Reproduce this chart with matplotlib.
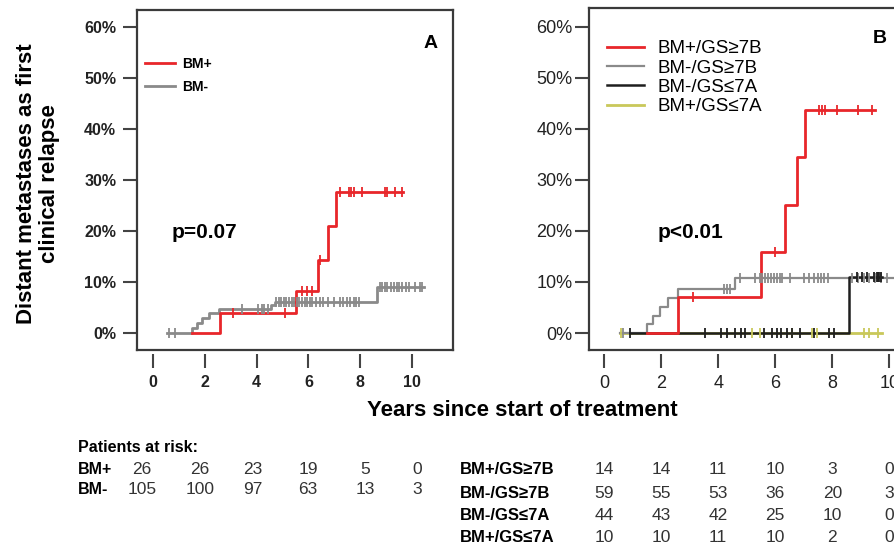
import numpy as np
import matplotlib
matplotlib.use('Agg')
import matplotlib.pyplot as plt
import matplotlib.transforms as mtransforms

plt.rcParams['font.family'] = ['Liberation Sans', 'DejaVu Sans']

# ---- panel A : BM+ / BM- (cumulative incidence, %) ----
a_red_start, a_red_end = 1.5, 9.65
a_red_times = [2.6, 5.5, 6.35, 6.75, 7.05]
a_red_vals = [3.9, 8.3, 14.4, 20.9, 27.6]
a_red_cens = [3.1, 5.1, 5.75, 5.95, 6.15, 6.45, 7.2, 7.55, 7.65, 7.75,
              8.05, 8.95, 9.05, 9.35, 9.6]

a_gray_start, a_gray_end = 0.55, 10.45
a_gray_times = [1.5, 1.7, 1.9, 2.15, 2.55, 4.55, 4.7, 8.65]
a_gray_vals = [1.0, 1.9, 2.9, 3.9, 4.8, 5.4, 6.0, 9.0]
a_gray_cens = [0.6, 0.85, 3.45, 4.05, 4.2, 4.3, 4.45,
               4.75, 4.85, 4.95, 5.05, 5.15, 5.25, 5.35, 5.45, 5.55, 5.65,
               5.75, 5.85, 5.95, 6.05, 6.15, 6.3, 6.45, 6.55, 6.75, 7.0,
               7.2, 7.35, 7.5, 7.6, 7.75, 7.85, 7.95,
               8.75, 8.85, 8.95, 9.05, 9.2, 9.3, 9.4, 9.5, 9.6, 9.75, 9.9,
               10.1, 10.3, 10.4]

# ---- panel B : four groups ----
b_red_start, b_red_end = 1.5, 9.5
b_red_times = [2.6, 5.5, 6.35, 6.75, 7.05]
b_red_vals = [7.1, 15.8, 25.0, 34.4, 43.8]
b_red_cens = [3.1, 6.0, 7.55, 7.65, 7.75, 8.15, 8.9, 9.4]

b_gray_start, b_gray_end = 0.56, 10.5
b_gray_times = [1.5, 1.7, 1.95, 2.25, 2.6, 4.6]
b_gray_vals = [1.7, 3.4, 5.1, 6.8, 8.6, 10.7]
b_gray_cens = [0.65, 4.2, 4.3, 4.4, 4.75, 5.3, 5.45, 5.55, 5.65, 5.75,
               5.85, 5.95, 6.05, 6.15, 6.25, 6.5, 7.0, 7.2, 7.35, 7.5, 7.6,
               7.7, 7.85, 8.7, 8.9, 9.1, 9.3, 9.5, 9.7, 9.9, 10.2]

b_black_start, b_black_end = 0.9, 9.75
b_black_times = [8.6]
b_black_vals = [11.0]
b_black_cens = [0.9, 3.55, 4.1, 4.3, 4.6, 4.8, 4.95, 5.6, 5.9, 6.05, 6.2,
                6.4, 6.6, 6.85, 7.35, 7.9, 8.05,
                8.85, 9.05, 9.2, 9.45, 9.55, 9.6, 9.65, 9.7]

b_olive_start, b_olive_end = 0.56, 9.75
b_olive_times = []
b_olive_vals = []
b_olive_cens = [0.6, 5.2, 5.45, 6.6, 7.3, 7.45, 9.1, 9.3, 9.6]

# ---- patients at risk ----
risk_years = [0, 2, 4, 6, 8, 10]
a_risk_labels = ['BM+', 'BM-']
a_risk = [[26, 26, 23, 19, 5, 0],
          [105, 100, 97, 63, 13, 3]]
b_risk_labels = ['BM+/GS\u22657B', 'BM-/GS\u22657B', 'BM-/GS\u22647A', 'BM+/GS\u22647A']
b_risk = [[14, 14, 11, 10, 3, 0],
          [59, 55, 53, 36, 20, 3],
          [44, 43, 42, 25, 10, 0],
          [10, 10, 11, 10, 2, 0]]

RED = '#e8262a'
GRAY = '#8a8a8a'
BLACK = '#1e1e1e'
OLIVE = '#c9c85a'
AXC = '#3a3a3a'


def km_curve(ax, start, end, times, vals, cens, color, lw=2.0, label=None):
    x = [start] + list(times) + [end]
    y = [0] + list(vals) + [vals[-1] if vals else 0]
    ax.step(x, y, where='post', color=color, lw=lw, label=label, zorder=3)
    idx = np.searchsorted(np.array(times, dtype=float), np.array(cens), side='right')
    lev = np.concatenate([[0], vals])[idx]
    ax.plot(cens, lev, ls='none', marker='|', ms=7, mew=1.3, color=color, zorder=4)


def style_axes(ax, xlim, ylim, bold):
    ax.set_xlim(*xlim)
    ax.set_ylim(*ylim)
    ax.set_xticks([0, 2, 4, 6, 8, 10])
    ax.set_yticks([0, 10, 20, 30, 40, 50, 60])
    ax.set_yticklabels([f'{v}%' for v in range(0, 70, 10)])
    for s in ['top', 'left', 'right']:
        ax.spines[s].set_color(AXC)
        ax.spines[s].set_linewidth(1.6)
    ax.spines['bottom'].set_position(('outward', 3))
    ax.spines['bottom'].set_color('none')
    ax.plot([0, 1], [0, 0], transform=ax.transAxes, color=AXC, lw=1.6, clip_on=False, zorder=5)
    ax.tick_params(axis='both', direction='out', color='#444444', width=1.5, labelcolor='#222222')
    ax.tick_params(axis='y', length=10, pad=5 if bold else 2)
    ax.tick_params(axis='x', length=10, pad=5)
    w = 'bold' if bold else 'normal'
    sz = 11.5 if bold else 13
    for t in ax.get_xticklabels() + ax.get_yticklabels():
        t.set_fontweight(w)
        t.set_fontsize(sz)


fig = plt.figure(figsize=(8.95, 5.49), dpi=100)
axA = fig.add_axes([137 / 895, 1 - 350 / 549, 316 / 895, 340 / 549])
axB = fig.add_axes([589 / 895, 1 - 350 / 549, 346 / 895, 342 / 549])

# panel A
km_curve(axA, a_gray_start, a_gray_end, a_gray_times, a_gray_vals, a_gray_cens, GRAY, label='BM-')
km_curve(axA, a_red_start, a_red_end, a_red_times, a_red_vals, a_red_cens, RED, label='BM+')
style_axes(axA, (-0.62, 11.58), (-3.33, 63.33), True)
h, l = axA.get_legend_handles_labels()
axA.legend(h[::-1], l[::-1], loc='upper left', bbox_to_anchor=(0.025, 0.862), frameon=False,
           borderpad=0, borderaxespad=0, handlelength=2.2, handletextpad=0.45,
           labelspacing=0.65, prop={'weight': 'bold', 'size': 10})
axA.text(0.93, 0.9, 'A', transform=axA.transAxes, fontsize=14, fontweight='bold',
         ha='center', va='center')
axA.text(0.11, 0.345, 'p=0.07', transform=axA.transAxes, fontsize=15, fontweight='bold',
         ha='left', va='center')

# panel B
km_curve(axB, b_olive_start, b_olive_end, b_olive_times, b_olive_vals, b_olive_cens, OLIVE,
         label=b_risk_labels[3])
km_curve(axB, b_gray_start, b_gray_end, b_gray_times, b_gray_vals, b_gray_cens, GRAY, lw=1.6,
         label=b_risk_labels[1])
km_curve(axB, b_black_start, b_black_end, b_black_times, b_black_vals, b_black_cens, BLACK,
         lw=1.8, label=b_risk_labels[2])
km_curve(axB, b_red_start, b_red_end, b_red_times, b_red_vals, b_red_cens, RED,
         label=b_risk_labels[0])
style_axes(axB, (-0.53, 11.6), (-3.33, 63.7), False)
h, l = axB.get_legend_handles_labels()
order = [3, 1, 2, 0]
axB.legend([h[i] for i in order], [l[i] for i in order], loc='upper left',
           bbox_to_anchor=(0.052, 0.906), frameon=False, borderpad=0, borderaxespad=0,
           handlelength=1.95, handletextpad=0.75, labelspacing=0.12, prop={'size': 13.5})
axB.text(0.84, 0.91, 'B', transform=axB.transAxes, fontsize=14, fontweight='bold',
         ha='center', va='center')
axB.text(0.197, 0.345, 'p<0.01', transform=axB.transAxes, fontsize=15, fontweight='bold',
         ha='left', va='center')

# shared labels
fig.text(38 / 895, 1 - 184 / 549, 'Distant metastases as first\nclinical relapse',
         rotation=90, ha='center', va='center', fontsize=16, fontweight='bold',
         multialignment='center', linespacing=1.1)
fig.text(522 / 895, 1 - 410 / 549, 'Years since start of treatment', ha='center',
         va='center', fontsize=16, fontweight='bold')

# patients at risk tables
fig.text(78 / 895, 1 - 447 / 549, 'Patients at risk:', ha='left', va='center',
         fontsize=11.5, fontweight='bold')
a_cols = [-0.42, 1.8, 3.86, 5.98, 8.19, 10.19]
trA = mtransforms.blended_transform_factory(axA.transData, fig.transFigure)
a_rows_y = [470, 490]
for lab, row, yy in zip(a_risk_labels, a_risk, a_rows_y):
    fig.text(78 / 895, 1 - yy / 549, lab, ha='left', va='center', fontsize=11.5, fontweight='bold')
    for xc, n in zip(a_cols, row):
        axA.text(xc, 1 - yy / 549, str(n), transform=trA, ha='center', va='center',
                 fontsize=12.5, color='#333333')

trB = mtransforms.blended_transform_factory(axB.transData, fig.transFigure)
b_rows_y = [470, 493, 515, 537]
for lab, row, yy in zip(b_risk_labels, b_risk, b_rows_y):
    fig.text(460 / 895, 1 - yy / 549, lab, ha='left', va='center', fontsize=12, fontweight='bold')
    for xc, n in zip(risk_years, row):
        axB.text(xc, 1 - yy / 549, str(n), transform=trB, ha='center', va='center',
                 fontsize=12.5, color='#333333')

fig.savefig('out.png', dpi=100)
